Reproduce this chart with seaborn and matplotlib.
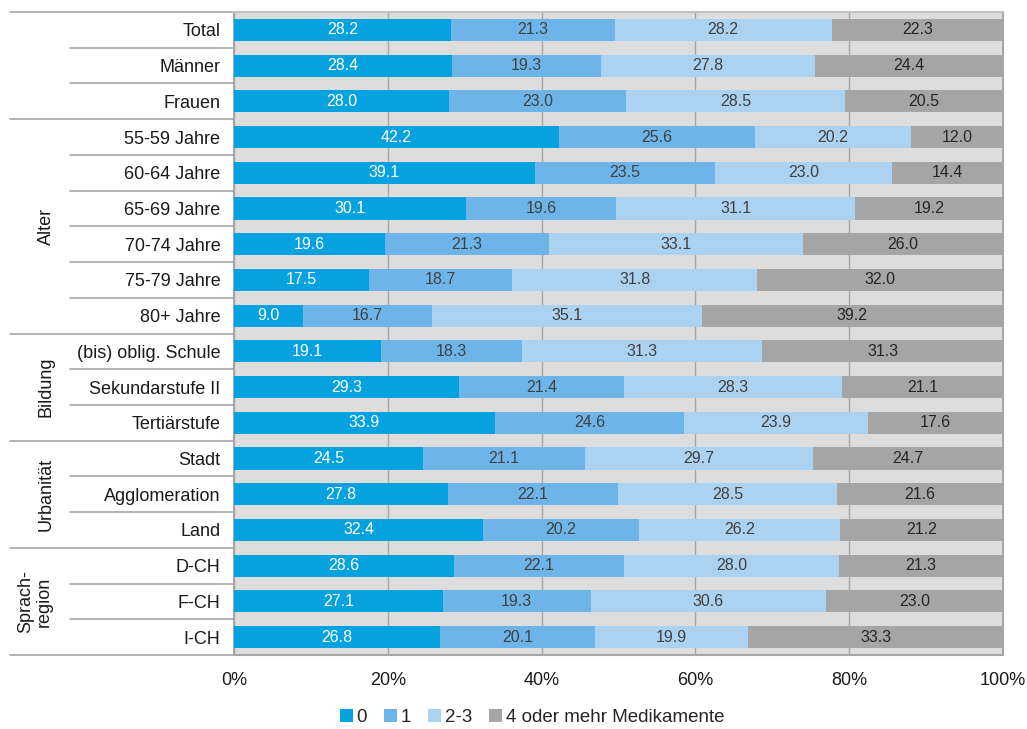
import numpy as np
import pandas as pd
import matplotlib
matplotlib.use("Agg")
import matplotlib.pyplot as plt
from matplotlib.patches import Patch
import seaborn as sns

categories = ["Total", "Männer", "Frauen",
              "55-59 Jahre", "60-64 Jahre", "65-69 Jahre", "70-74 Jahre", "75-79 Jahre", "80+ Jahre",
              "(bis) oblig. Schule", "Sekundarstufe II", "Tertiärstufe",
              "Stadt", "Agglomeration", "Land",
              "D-CH", "F-CH", "I-CH"]
v0 = [28.2, 28.4, 28.0, 42.2, 39.1, 30.1, 19.6, 17.5, 9.0, 19.1, 29.3, 33.9, 24.5, 27.8, 32.4, 28.6, 27.1, 26.8]
v1 = [21.3, 19.3, 23.0, 25.6, 23.5, 19.6, 21.3, 18.7, 16.7, 18.3, 21.4, 24.6, 21.1, 22.1, 20.2, 22.1, 19.3, 20.1]
v23 = [28.2, 27.8, 28.5, 20.2, 23.0, 31.1, 33.1, 31.8, 35.1, 31.3, 28.3, 23.9, 29.7, 28.5, 26.2, 28.0, 30.6, 19.9]
v4 = [22.3, 24.4, 20.5, 12.0, 14.4, 19.2, 26.0, 32.0, 39.2, 31.3, 21.1, 17.6, 24.7, 21.6, 21.2, 21.3, 23.0, 33.3]
series_names = ["0", "1", "2-3", "4 oder mehr Medikamente"]
colors = ["#06a2df", "#6db5e9", "#acd2f2", "#a5a5a5"]
text_colors = ["white", "#404040", "#404040", "#262626"]
# group label, first row index, last row index, label x (axes coords)
groups = [("Alter", 3, 8, -0.2445), ("Bildung", 9, 11, -0.2445),
          ("Urbanität", 12, 14, -0.2445), ("Sprach-\nregion", 15, 17, -0.259)]
group_starts = [0, 3, 9, 12, 15, 18]

sns.set_theme(style="white")
plt.rcParams["font.family"] = ["Liberation Sans", "DejaVu Sans"]

df = pd.DataFrame({"cat": categories, "s0": v0, "s1": v1, "s2": v23, "s3": v4})
vals = df[["s0", "s1", "s2", "s3"]].to_numpy()
cum = np.cumsum(vals, axis=1)

fig = plt.figure(figsize=(10.27, 7.29), dpi=100)
ax = fig.add_axes([0.228, 0.1015, 0.7486, 0.882])
ax.set_facecolor("#dddddd")

# Stacked bars: draw cumulative totals from the widest down
for k in range(3, -1, -1):
    d = pd.DataFrame({"cat": categories, "val": cum[:, k]})
    sns.barplot(data=d, y="cat", x="val", orient="h", color=colors[k],
                saturation=1, width=0.62, ax=ax, zorder=3 + (3 - k) * 0.1,
                linewidth=0)

for i in range(len(categories)):
    left = 0.0
    for k in range(4):
        w = vals[i, k]
        ax.text(left + w / 2, i, f"{w:.1f}", ha="center", va="center",
                fontsize=11.5, color=text_colors[k], zorder=5)
        left += w

ax.set_xlim(0, 100)
ax.set_ylim(len(categories) - 0.5, -0.5)
ax.set_xticks([0, 20, 40, 60, 80, 100])
ax.set_xticklabels(["0%", "20%", "40%", "60%", "80%", "100%"], fontsize=13, color="#1a1a1a")
ax.set_xlabel("")
ax.set_ylabel("")
ax.tick_params(axis="x", length=0, pad=12)
ax.tick_params(axis="y", length=0, pad=10, labelsize=13, labelcolor="#1a1a1a")
ax.xaxis.grid(True, color="#a6a6a6", linewidth=1.0, zorder=1)
ax.set_axisbelow(True)
for side in ["left", "right", "bottom", "top"]:
    ax.spines[side].set_visible(True)
    ax.spines[side].set_color("#a6a6a6")
    ax.spines[side].set_linewidth(1.5)
ax.spines["top"].set_color("#c0c0c0")

# Row separators in the label area
ytr = ax.get_yaxis_transform()
for b in range(len(categories) + 1):
    y = b - 0.5
    x0 = -0.291 if b in group_starts else -0.213
    ax.plot([x0, -0.002], [y, y], transform=ytr, color="#a6a6a6",
            linewidth=1.2, clip_on=False, zorder=1)

for name, a, b, gx in groups:
    ax.text(gx, (a + b) / 2, name, transform=ytr, rotation=90,
            ha="center", va="center", fontsize=13, color="#1a1a1a",
            linespacing=1.1)

handles = [Patch(facecolor=c, edgecolor="none") for c in colors]
fig.legend(handles, series_names, loc="center", bbox_to_anchor=(0.518, 0.016),
           ncol=4, frameon=False, fontsize=13.5, handlelength=0.7,
           handleheight=0.7, handletextpad=0.2, columnspacing=0.9)

fig.savefig("out.png", dpi=100)
